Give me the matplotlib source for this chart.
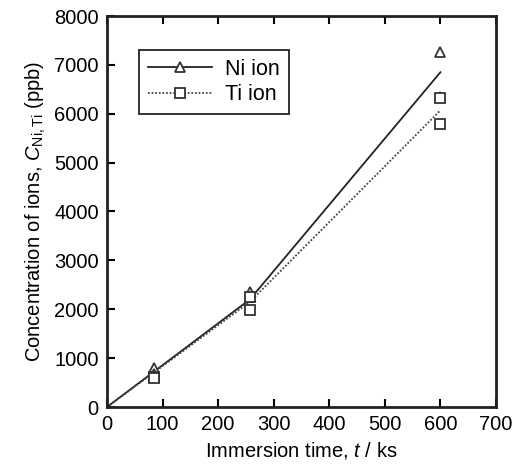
import matplotlib
matplotlib.use('Agg')
import matplotlib.pyplot as plt

plt.rcParams['font.family'] = ['Liberation Sans', 'DejaVu Sans']
plt.rcParams['mathtext.fontset'] = 'custom'
plt.rcParams['mathtext.rm'] = 'Liberation Sans'
plt.rcParams['mathtext.it'] = 'Liberation Sans:italic'

# measured points
ni_time = [84, 84, 257, 257, 600, 600]
ni_conc = [790, 680, 2360, 2250, 7260, 6350]
ti_time = [84, 84, 257, 257, 600, 600]
ti_conc = [620, 600, 1980, 2250, 6330, 5790]

# fitted lines
ni_fit_time = [0, 257, 600]
ni_fit_conc = [0, 2200, 6850]
ti_fit_time = [0, 257, 600]
ti_fit_conc = [0, 2150, 6070]

fig = plt.figure(figsize=(5.17, 4.73), dpi=100)
ax = fig.add_axes([107/517, 1 - 407/473, (496-107)/517, (407-16)/473])

ax.plot(ni_fit_time, ni_fit_conc, color='#222222', lw=1.3, ls='-')
ax.plot(ti_fit_time, ti_fit_conc, color='#444444', lw=1.3, ls=(0, (1, 1)))
ax.plot(ni_time, ni_conc, ls='none', marker='^', ms=7.5, mfc='white', mec='#333333', mew=1.3)
ax.plot(ti_time, ti_conc, ls='none', marker='s', ms=7, mfc='white', mec='#333333', mew=1.3)

# legend proxies
h_ni, = ax.plot([], [], color='#222222', lw=1.3, ls='-', marker='^', ms=6.5, mfc='white', mec='#333333', mew=1.3)
h_ti, = ax.plot([], [], color='#444444', lw=1.3, ls=(0, (1, 1)), marker='s', ms=6.5, mfc='white', mec='#333333', mew=1.3)
leg = ax.legend([h_ni, h_ti], ['Ni ion', 'Ti ion'], loc='upper left', bbox_to_anchor=(0.055, 0.94),
                fontsize=15.5, handlelength=3.0, fancybox=False, edgecolor='#222222',
                framealpha=1, borderpad=0.4, labelspacing=0.2, handletextpad=0.6)
leg.get_frame().set_linewidth(1.3)

ax.set_xlim(0, 700)
ax.set_ylim(0, 8000)
ax.set_xticks(range(0, 701, 100))
ax.set_yticks(range(0, 8001, 1000))
ax.tick_params(direction='in', top=True, right=False, length=6, width=1.5, labelsize=14.5, pad=6)
for s in ax.spines.values():
    s.set_linewidth(2)
    s.set_color('#222222')

ax.set_xlabel(r'Immersion time, $\mathit{t}$ / ks', fontsize=14.5)
ax.set_ylabel(r'Concentration of ions, $\mathit{C}_{\mathrm{Ni,Ti}}$ (ppb)', fontsize=14.5)

fig.savefig('out.png', dpi=100)
